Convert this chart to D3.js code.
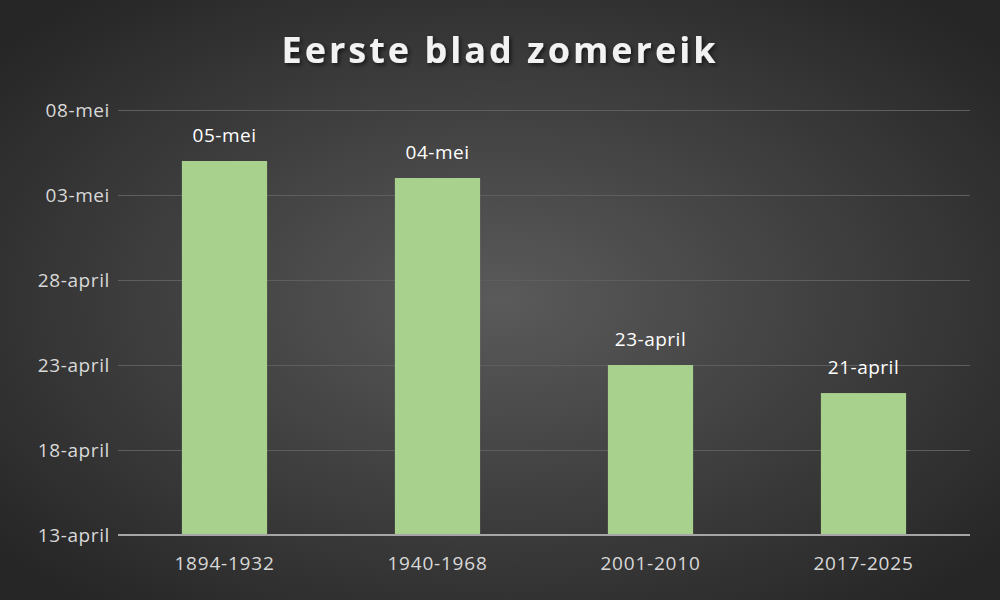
<!DOCTYPE html>
<html>
<head>
<meta charset="utf-8">
<script src="https://cdn.jsdelivr.net/npm/d3@7"></script>
<style>
  body { margin: 0; background: #333; }
  svg { display: block; font-family: "Open Sans", "Liberation Sans", sans-serif; }
</style>
</head>
<body>
<svg id="chart" width="1000" height="600"></svg>
<script>
// days after 13 april
var periods = ["1894-1932", "1940-1968", "2001-2010", "2017-2025"];
var dayValues = [22, 21, 10, 8.35];
var dayLabels = ["05-mei", "04-mei", "23-april", "21-april"];
var tickValues = [0, 5, 10, 15, 20, 25];
var tickLabels = ["13-april", "18-april", "23-april", "28-april", "03-mei", "08-mei"];

var svg = d3.select("#chart");

var defs = svg.append("defs");
var grad = defs.append("radialGradient").attr("id", "bg")
  .attr("cx", "50%").attr("cy", "50%").attr("r", "65%");
grad.append("stop").attr("offset", "0%").attr("stop-color", "#5a5a5a");
grad.append("stop").attr("offset", "100%").attr("stop-color", "#262626");
var shadow = defs.append("filter").attr("id", "shadow");
shadow.append("feDropShadow").attr("dx", 2).attr("dy", 2).attr("stdDeviation", 2)
  .attr("flood-color", "#000").attr("flood-opacity", 0.6);

svg.append("rect").attr("width", 1000).attr("height", 600).attr("fill", "url(#bg)");

var x = d3.scaleBand().domain(periods).range([118, 970]).paddingInner(0.6).paddingOuter(0.3);
var y = d3.scaleLinear().domain([0, 25]).range([535, 110]);

svg.append("text")
  .attr("x", 500).attr("y", 63)
  .attr("text-anchor", "middle")
  .attr("fill", "#f2f2f2")
  .attr("font-size", 36).attr("font-weight", "bold")
  .attr("letter-spacing", 3)
  .attr("filter", "url(#shadow)")
  .text("Eerste blad zomereik");

var yAxis = d3.axisLeft(y).tickValues(tickValues)
  .tickFormat(function(d, i) { return tickLabels[i]; })
  .tickSize(-(970 - 118)).tickPadding(8);

var gy = svg.append("g").attr("transform", "translate(118,0)").call(yAxis);
gy.select(".domain").remove();
gy.selectAll(".tick line").attr("stroke", "#5e5e5e").attr("stroke-width", 1);
gy.selectAll(".tick text").attr("fill", "#d9d9d9").attr("font-size", 19)
  .attr("font-family", "Open Sans, sans-serif").attr("letter-spacing", 0.6);

svg.selectAll(".bar").data(periods).enter().append("rect")
  .attr("class", "bar")
  .attr("x", function(d) { return x(d); })
  .attr("width", x.bandwidth())
  .attr("y", function(d, i) { return y(dayValues[i]); })
  .attr("height", function(d, i) { return y(0) - y(dayValues[i]); })
  .attr("fill", "#a9d18e");

svg.append("line").attr("x1", 118).attr("x2", 970).attr("y1", y(0)).attr("y2", y(0))
  .attr("stroke", "#a6a6a6").attr("stroke-width", 2);

svg.selectAll(".lbl").data(periods).enter().append("text")
  .attr("x", function(d) { return x(d) + x.bandwidth() / 2; })
  .attr("y", function(d, i) { return y(dayValues[i]) - 19; })
  .attr("text-anchor", "middle")
  .attr("fill", "#ffffff").attr("font-size", 19)
  .attr("font-family", "Open Sans, sans-serif").attr("letter-spacing", 0.5)
  .text(function(d, i) { return dayLabels[i]; });

var xAxis = d3.axisBottom(x).tickSize(0).tickPadding(22);
var gx = svg.append("g").attr("transform", "translate(0," + y(0) + ")").call(xAxis);
gx.select(".domain").remove();
gx.selectAll(".tick text").attr("fill", "#d9d9d9").attr("font-size", 19)
  .attr("font-family", "Open Sans, sans-serif").attr("letter-spacing", 0.8);
</script>
</body>
</html>
